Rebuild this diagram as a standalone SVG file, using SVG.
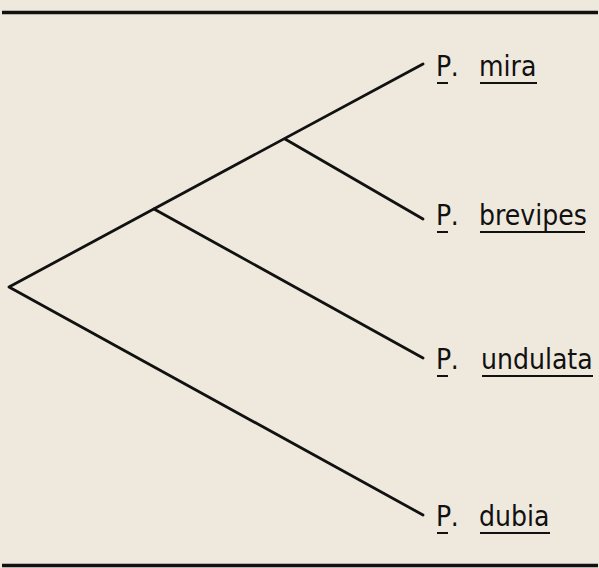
<svg xmlns="http://www.w3.org/2000/svg" width="599" height="568" viewBox="0 0 599 568">
  <style>
    .rule { stroke: #111; stroke-width: 3.5; }
    .edge { stroke: #111; stroke-width: 2.8; fill: none; stroke-linecap: round; stroke-linejoin: round; }
    .lbl { font-family: "DejaVu Sans Condensed", "DejaVu Sans", sans-serif; font-stretch: condensed; font-size: 28px; fill: #111; }
    .p { letter-spacing: 4px; }
    .ul { stroke: #111; stroke-width: 2; }
  </style>
  <rect width="599" height="568" fill="#efe9dd"/>
  <line class="rule" x1="2" y1="12.5" x2="598" y2="12.5"/>
  <line class="rule" x1="2" y1="565.5" x2="598" y2="565.5"/>
  <g id="connectors">
    <polyline class="edge" points="423,64 9,287 423,515"/>
    <line class="edge" x1="154" y1="209" x2="423" y2="358"/>
    <line class="edge" x1="285" y1="139" x2="423" y2="219"/>
  </g>
  <g id="mira">
    <text class="lbl p" x="436" y="76">P.</text>
    <line class="ul" x1="437" y1="83" x2="448" y2="83"/>
    <text class="lbl" x="479" y="76">mira</text>
    <line class="ul" x1="480" y1="83" x2="537" y2="83"/>
  </g>
  <g id="brevipes">
    <text class="lbl p" x="436" y="225">P.</text>
    <line class="ul" x1="437" y1="232" x2="448" y2="232"/>
    <text class="lbl" x="479" y="225">brevipes</text>
    <line class="ul" x1="480" y1="232" x2="585" y2="232"/>
  </g>
  <g id="undulata">
    <text class="lbl p" x="436" y="369">P.</text>
    <line class="ul" x1="437" y1="376" x2="448" y2="376"/>
    <text class="lbl" x="481" y="369">undulata</text>
    <line class="ul" x1="482" y1="376" x2="593" y2="376"/>
  </g>
  <g id="dubia">
    <text class="lbl p" x="436" y="526">P.</text>
    <line class="ul" x1="437" y1="533" x2="448" y2="533"/>
    <text class="lbl" x="479" y="526">dubia</text>
    <line class="ul" x1="480" y1="533" x2="550" y2="533"/>
  </g>
</svg>
